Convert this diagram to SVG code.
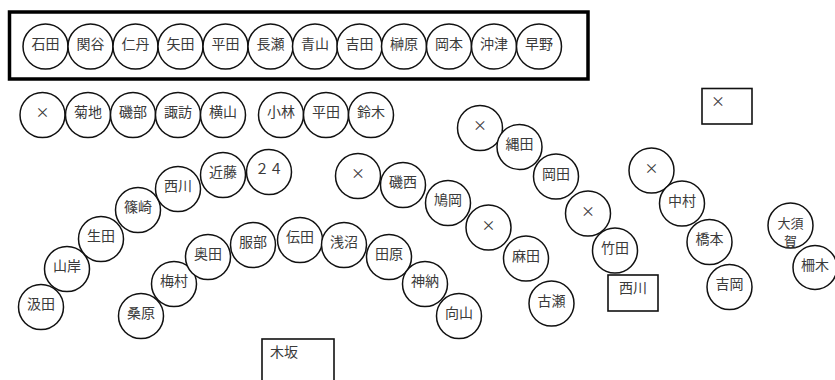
<svg xmlns="http://www.w3.org/2000/svg" width="835" height="380" viewBox="0 0 835 380">
<style>
  .n circle { fill: #fff; stroke: #111; stroke-width: 1.5; }
  .n text, .b text { font-family: "Noto Sans CJK JP", "Noto Sans CJK SC", sans-serif; font-size: 14px; fill: #3a3a3a; }
  .n text { text-anchor: middle; }
  .n text.sm { font-size: 13px; }
  .b rect { fill: #fff; stroke: #111; stroke-width: 1.6; }
  .frame { fill: none; stroke: #000; stroke-width: 3.5; }
</style>
<rect class="frame" x="9.5" y="12" width="578.5" height="67"/>
<g id="connectors"></g>
<g id="top-row">
  <g id="n-ishida" class="n"><circle cx="45.5" cy="46.5" r="22.5"/><text x="45.5" y="48.5">石田</text></g>
  <g id="n-sekiya" class="n"><circle cx="90.5" cy="46.5" r="22.5"/><text x="90.5" y="48.5">関谷</text></g>
  <g id="n-nitan" class="n"><circle cx="135.5" cy="46.5" r="22.5"/><text x="135.5" y="48.5">仁丹</text></g>
  <g id="n-yada" class="n"><circle cx="180.5" cy="46.5" r="22.5"/><text x="180.5" y="48.5">矢田</text></g>
  <g id="n-hirata1" class="n"><circle cx="225.5" cy="46.5" r="22.5"/><text x="225.5" y="48.5">平田</text></g>
  <g id="n-nagase" class="n"><circle cx="270.5" cy="46.5" r="22.5"/><text x="270.5" y="48.5">長瀬</text></g>
  <g id="n-aoyama" class="n"><circle cx="315" cy="46.5" r="22.5"/><text x="315" y="48.5">青山</text></g>
  <g id="n-yoshida" class="n"><circle cx="359.5" cy="46.5" r="22.5"/><text x="359.5" y="48.5">吉田</text></g>
  <g id="n-sakakibara" class="n"><circle cx="404" cy="46.5" r="22.5"/><text x="404" y="48.5">榊原</text></g>
  <g id="n-okamoto" class="n"><circle cx="449" cy="46.5" r="22.5"/><text x="449" y="48.5">岡本</text></g>
  <g id="n-okitsu" class="n"><circle cx="494" cy="46.5" r="22.5"/><text x="494" y="48.5">沖津</text></g>
  <g id="n-hayano" class="n"><circle cx="539" cy="46.5" r="22.5"/><text x="539" y="48.5">早野</text></g>
</g>
<g id="second-row">
  <g id="n-x1" class="n"><circle cx="42.5" cy="115" r="22.5"/><text x="42.5" y="117">×</text></g>
  <g id="n-kikuchi" class="n"><circle cx="88" cy="115" r="22.5"/><text x="88" y="117">菊地</text></g>
  <g id="n-isobe" class="n"><circle cx="133" cy="115" r="22.5"/><text x="133" y="117">磯部</text></g>
  <g id="n-suwa" class="n"><circle cx="178" cy="115" r="22.5"/><text x="178" y="117">諏訪</text></g>
  <g id="n-yokoyama" class="n"><circle cx="223" cy="115" r="22.5"/><text x="223" y="117">横山</text></g>
  <g id="n-kobayashi" class="n"><circle cx="281" cy="115" r="22.5"/><text x="281" y="117">小林</text></g>
  <g id="n-hirata2" class="n"><circle cx="326" cy="115" r="22.5"/><text x="326" y="117">平田</text></g>
  <g id="n-suzuki" class="n"><circle cx="371" cy="115" r="22.5"/><text x="371" y="117">鈴木</text></g>
</g>
<g id="left-arc">
  <g id="n-kumita" class="n"><circle cx="41" cy="307" r="22.5"/><text x="41" y="309">汲田</text></g>
  <g id="n-yamagishi" class="n"><circle cx="67" cy="269" r="22.5"/><text x="67" y="271">山岸</text></g>
  <g id="n-ikuta" class="n"><circle cx="101" cy="239" r="22.5"/><text x="101" y="241">生田</text></g>
  <g id="n-shinozaki" class="n"><circle cx="138" cy="210" r="22.5"/><text x="138" y="212">篠崎</text></g>
  <g id="n-nishikawa1" class="n"><circle cx="178" cy="189" r="22.5"/><text x="178" y="191">西川</text></g>
  <g id="n-kondo" class="n"><circle cx="223" cy="175" r="22.5"/><text x="223" y="177">近藤</text></g>
  <g id="n-24" class="n"><circle cx="269" cy="172" r="22.5"/><text x="269" y="174">２４</text></g>
</g>
<g id="middle-arc">
  <g id="n-kuwabara" class="n"><circle cx="141" cy="316" r="22.5"/><text x="141" y="318">桑原</text></g>
  <g id="n-umemura" class="n"><circle cx="174" cy="284" r="22.5"/><text x="174" y="286">梅村</text></g>
  <g id="n-okuda" class="n"><circle cx="208" cy="257" r="22.5"/><text x="208" y="259">奥田</text></g>
  <g id="n-hattori" class="n"><circle cx="253" cy="245" r="22.5"/><text x="253" y="247">服部</text></g>
  <g id="n-denda" class="n"><circle cx="300" cy="240" r="22.5"/><text x="300" y="242">伝田</text></g>
  <g id="n-asanuma" class="n"><circle cx="344" cy="245" r="22.5"/><text x="344" y="247">浅沼</text></g>
  <g id="n-tahara" class="n"><circle cx="389" cy="257" r="22.5"/><text x="389" y="259">田原</text></g>
  <g id="n-kanno" class="n"><circle cx="425" cy="284" r="22.5"/><text x="425" y="286">神納</text></g>
  <g id="n-mukoyama" class="n"><circle cx="459" cy="316" r="22.5"/><text x="459" y="318">向山</text></g>
</g>
<g id="right-groups">
  <g id="n-x2" class="n"><circle cx="358" cy="176" r="22.5"/><text x="358" y="178">×</text></g>
  <g id="n-isonishi" class="n"><circle cx="403" cy="185" r="22.5"/><text x="403" y="187">磯西</text></g>
  <g id="n-hatooka" class="n"><circle cx="448" cy="203" r="22.5"/><text x="448" y="205">鳩岡</text></g>
  <g id="n-x3" class="n"><circle cx="488.5" cy="227.5" r="22.5"/><text x="488.5" y="229.5">×</text></g>
  <g id="n-asada" class="n"><circle cx="526" cy="258.5" r="22.5"/><text x="526" y="260.5">麻田</text></g>
  <g id="n-furuse" class="n"><circle cx="551.5" cy="303.5" r="22.5"/><text x="551.5" y="305.5">古瀬</text></g>
  <g id="n-x4" class="n"><circle cx="480" cy="128" r="22.5"/><text x="480" y="130">×</text></g>
  <g id="n-nawata" class="n"><circle cx="519.5" cy="147" r="22.5"/><text x="519.5" y="149">縄田</text></g>
  <g id="n-okada" class="n"><circle cx="556" cy="176.5" r="22.5"/><text x="556" y="178.5">岡田</text></g>
  <g id="n-x5" class="n"><circle cx="588" cy="213.5" r="22.5"/><text x="588" y="215.5">×</text></g>
  <g id="n-takeda" class="n"><circle cx="615" cy="250.5" r="22.5"/><text x="615" y="252.5">竹田</text></g>
  <g id="n-x6" class="n"><circle cx="651.5" cy="170.5" r="22.5"/><text x="651.5" y="172.5">×</text></g>
  <g id="n-nakamura" class="n"><circle cx="682" cy="203.5" r="22.5"/><text x="682" y="205.5">中村</text></g>
  <g id="n-hashimoto" class="n"><circle cx="709.5" cy="242" r="22.5"/><text x="709.5" y="244">橋本</text></g>
  <g id="n-yoshioka" class="n"><circle cx="729.5" cy="287" r="22.5"/><text x="729.5" y="289">吉岡</text></g>
  <g id="n-osuga" class="n"><circle cx="790.5" cy="225.5" r="22.5"/><text class="sm" x="790.5" y="228">大須</text><text class="sm" x="790.5" y="246">賀</text></g>
  <g id="n-maseki" class="n"><circle cx="815" cy="267.5" r="22"/><text x="815" y="269.5">柵木</text></g>
</g>
<g id="boxes">
  <g id="b-kisaka" class="b"><rect x="262" y="339" width="72" height="50"/><text x="270" y="357">木坂</text></g>
  <g id="b-nishikawa2" class="b"><rect x="608" y="275" width="50" height="36"/><text x="619" y="293">西川</text></g>
  <g id="b-x" class="b"><rect x="702" y="88.5" width="50" height="35.5"/><text x="711" y="106">×</text></g>
</g>
</svg>
